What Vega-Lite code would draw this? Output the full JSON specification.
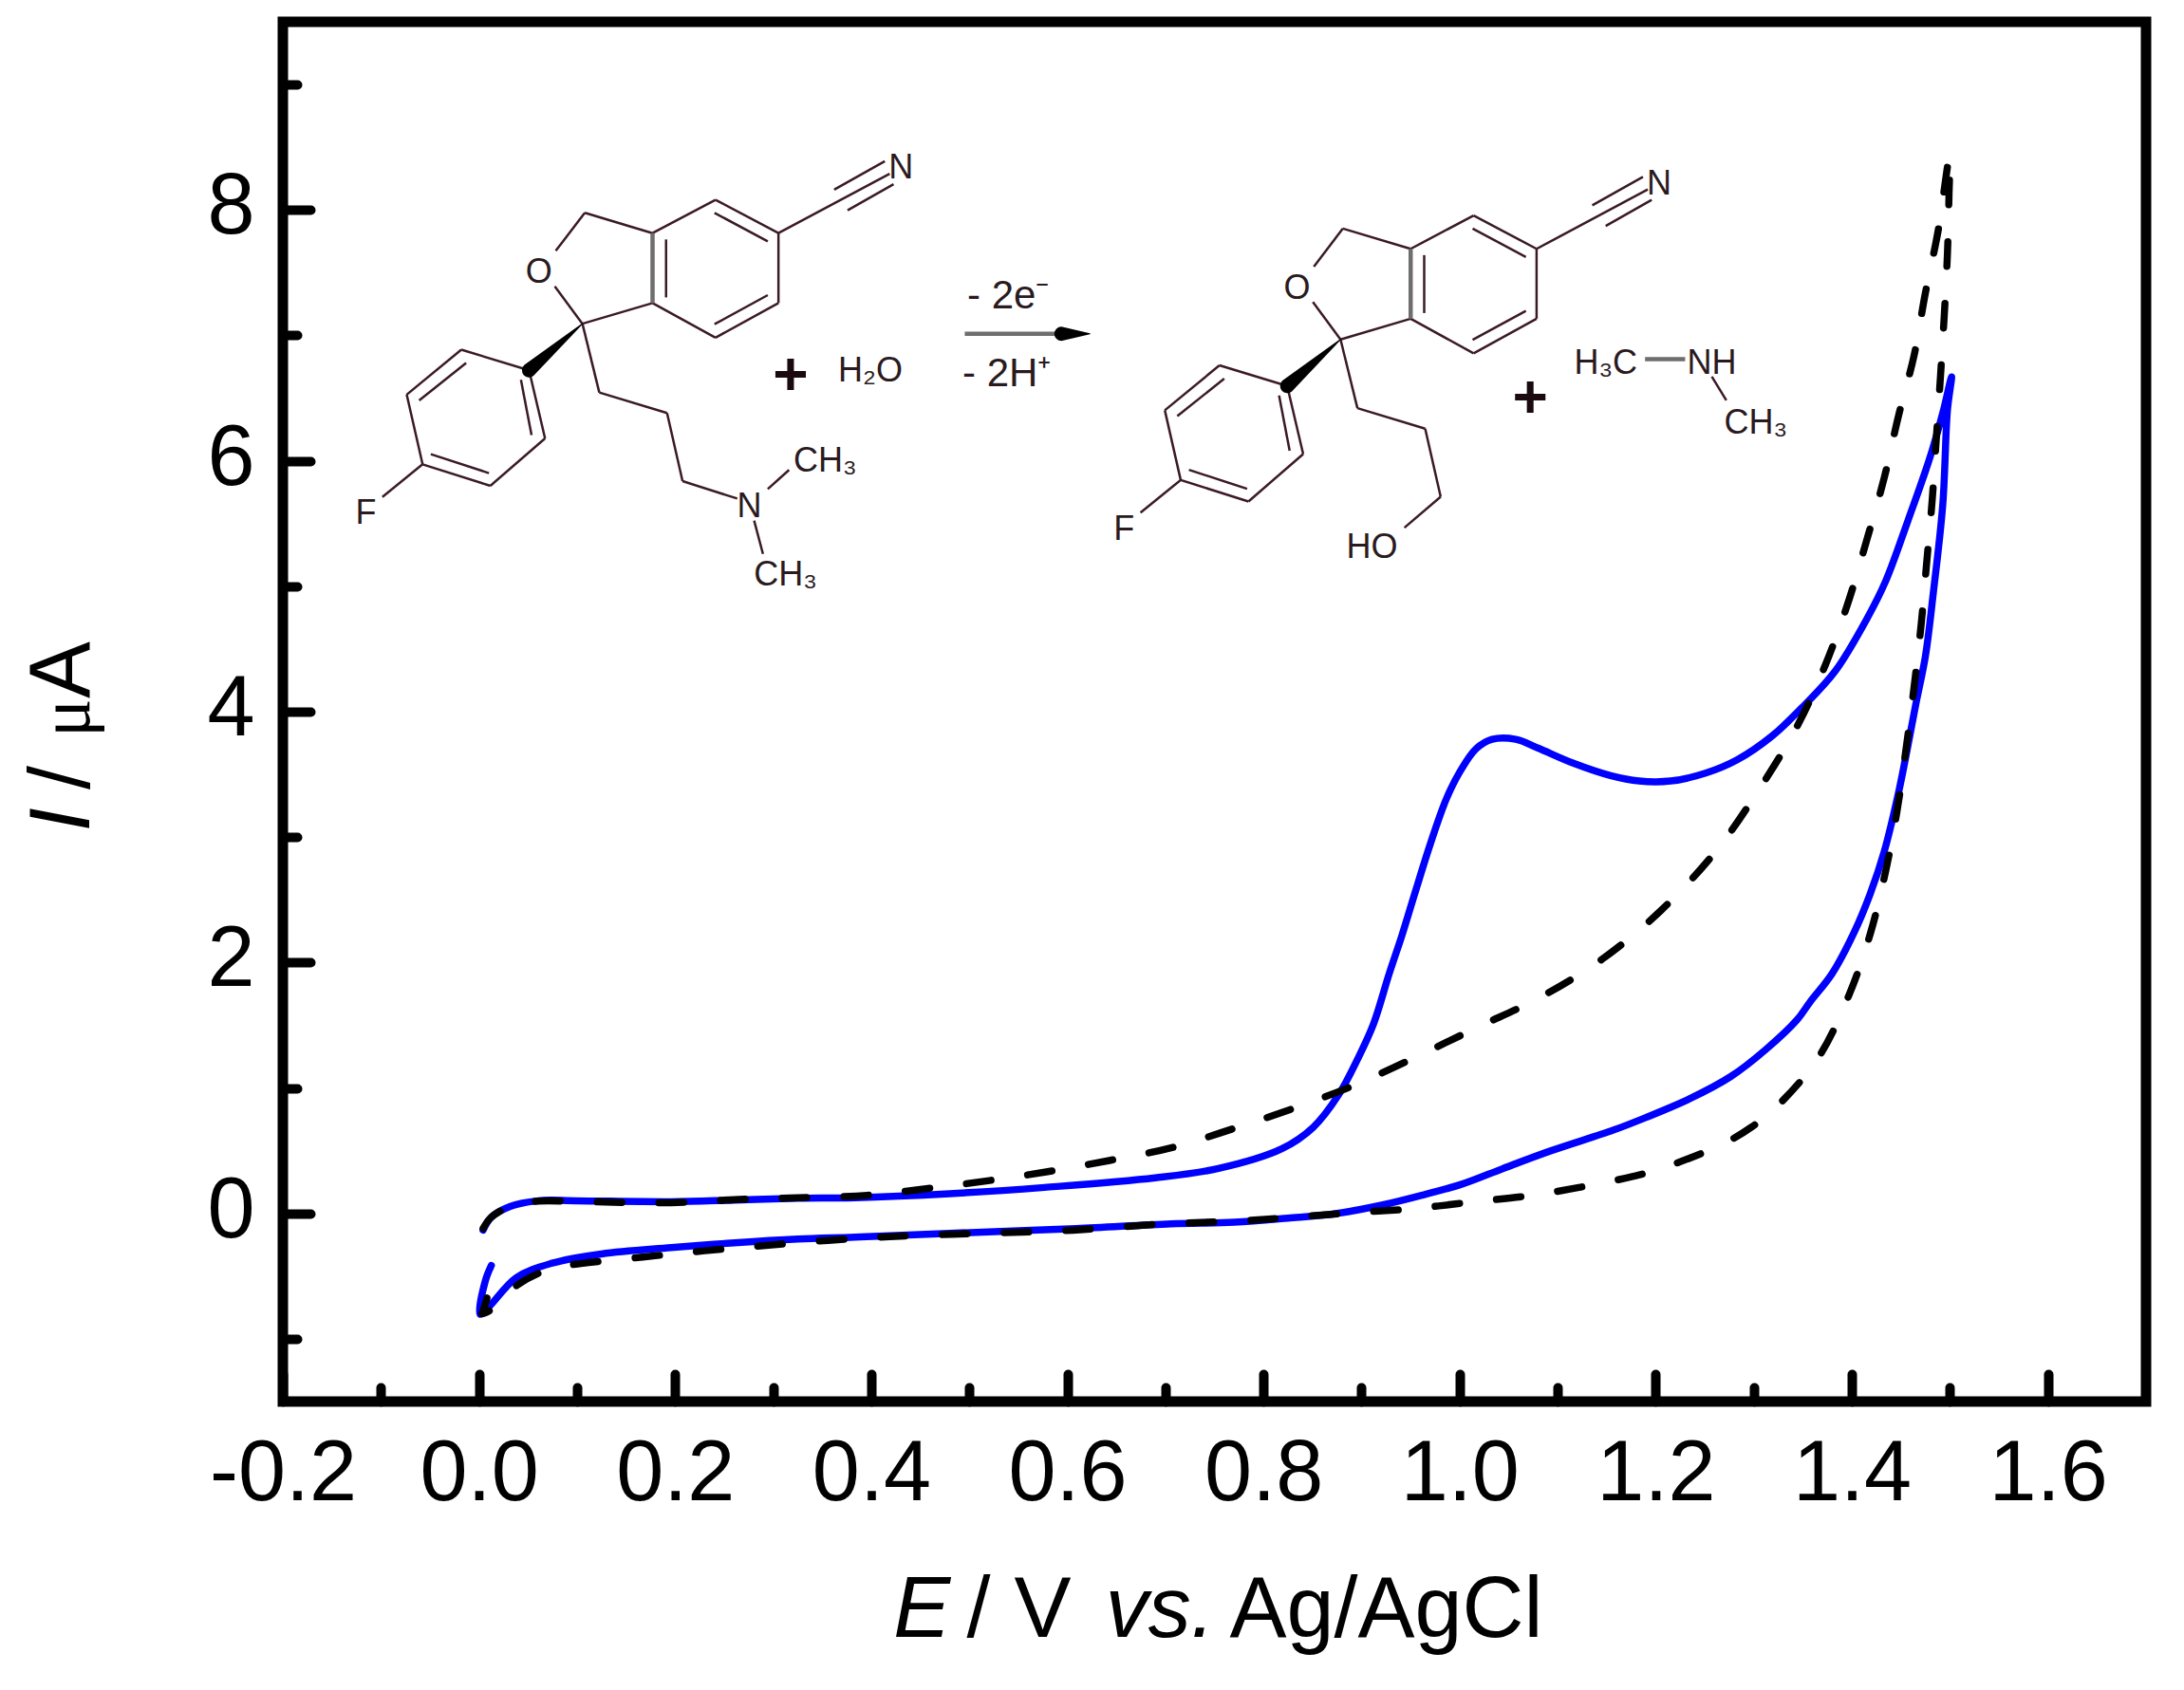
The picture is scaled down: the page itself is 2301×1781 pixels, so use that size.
{
  "$schema": "https://vega.github.io/schema/vega-lite/v6.json",
  "background": "white",
  "autosize": {"type": "none"},
  "padding": {"left": 298, "top": 23, "right": 40, "bottom": 304},
  "width": 1963,
  "height": 1454,
  "config": {
    "view": {"stroke": "black", "strokeWidth": 11},
    "axis": {"grid": false, "domain": false, "title": null, "tickColor": "black", "labelColor": "black", "labelFont": "Liberation Sans", "labelFontSize": 90, "tickCap": "round"}
  },
  "resolve": {"axis": {"x": "independent", "y": "independent"}},
  "datasets": {
    "blue": [
      {"i":0,"E":0.0042,"I":-0.134},{"i":1,"E":0.0123,"I":-0.033},{"i":2,"E":0.0316,"I":0.055},{"i":3,"E":0.0606,"I":0.101},{"i":4,"E":0.0993,"I":0.101},{"i":5,"E":0.1961,"I":0.093},{"i":6,"E":0.2605,"I":0.106},{"i":7,"E":0.325,"I":0.12},{"i":8,"E":0.3832,"I":0.125},{"i":9,"E":0.4799,"I":0.157},
      {"i":10,"E":0.5767,"I":0.207},{"i":11,"E":0.6896,"I":0.283},{"i":12,"E":0.7541,"I":0.358},{"i":13,"E":0.8186,"I":0.515},{"i":14,"E":0.8508,"I":0.687},{"i":15,"E":0.8766,"I":0.945},{"i":16,"E":0.896,"I":1.23},{"i":17,"E":0.9121,"I":1.508},{"i":18,"E":0.9282,"I":1.911},{"i":19,"E":0.9411,"I":2.214},
      {"i":20,"E":0.954,"I":2.543},{"i":21,"E":0.9702,"I":2.947},{"i":22,"E":0.9863,"I":3.301},{"i":23,"E":1.0008,"I":3.528},{"i":24,"E":1.0169,"I":3.705},{"i":25,"E":1.0331,"I":3.78},{"i":26,"E":1.0573,"I":3.78},{"i":27,"E":1.0798,"I":3.71},{"i":28,"E":1.1153,"I":3.591},{"i":29,"E":1.154,"I":3.49},
      {"i":30,"E":1.183,"I":3.447},{"i":31,"E":1.2153,"I":3.447},{"i":32,"E":1.2508,"I":3.51},{"i":33,"E":1.283,"I":3.616},{"i":34,"E":1.3185,"I":3.805},{"i":35,"E":1.3508,"I":4.045},{"i":36,"E":1.383,"I":4.323},{"i":37,"E":1.4153,"I":4.74},{"i":38,"E":1.4346,"I":5.043},{"i":39,"E":1.4572,"I":5.523},
      {"i":40,"E":1.4797,"I":6.028},{"i":41,"E":1.4927,"I":6.381},{"i":42,"E":1.5017,"I":6.669},{"i":43,"E":1.4975,"I":6.407},{"i":44,"E":1.4927,"I":5.649},{"i":45,"E":1.483,"I":4.942},{"i":46,"E":1.4749,"I":4.437},{"i":47,"E":1.4652,"I":4.059},{"i":48,"E":1.4572,"I":3.73},{"i":49,"E":1.4475,"I":3.351},
      {"i":50,"E":1.433,"I":2.884},{"i":51,"E":1.4185,"I":2.543},{"i":52,"E":1.4023,"I":2.24},{"i":53,"E":1.3798,"I":1.911},{"i":54,"E":1.3572,"I":1.684},{"i":55,"E":1.3443,"I":1.545},{"i":56,"E":1.312,"I":1.305},{"i":57,"E":1.2765,"I":1.091},{"i":58,"E":1.2346,"I":0.914},{"i":59,"E":1.1895,"I":0.763},
      {"i":60,"E":1.1572,"I":0.665},{"i":61,"E":1.0927,"I":0.498},{"i":62,"E":1.0443,"I":0.358},{"i":63,"E":1.0024,"I":0.233},{"i":64,"E":0.9637,"I":0.149},{"i":65,"E":0.9218,"I":0.068},{"i":66,"E":0.8734,"I":-0.002},{"i":67,"E":0.825,"I":-0.038},{"i":68,"E":0.7702,"I":-0.071},{"i":69,"E":0.7057,"I":-0.083},
      {"i":70,"E":0.6086,"I":-0.121},{"i":71,"E":0.4799,"I":-0.159},{"i":72,"E":0.3832,"I":-0.189},{"i":73,"E":0.325,"I":-0.205},{"i":74,"E":0.2605,"I":-0.235},{"i":75,"E":0.196,"I":-0.273},{"i":76,"E":0.125,"I":-0.323},{"i":77,"E":0.0735,"I":-0.399},{"i":78,"E":0.038,"I":-0.513},{"i":79,"E":0.0106,"I":-0.74},
      {"i":80,"E":0.001,"I":-0.803},{"i":81,"E":0.0065,"I":-0.538},{"i":82,"E":0.0126,"I":-0.416}
    ],
    "black": [
      {"i":0,"E":0.0042,"I":-0.12},{"i":1,"E":0.0123,"I":-0.033},{"i":2,"E":0.0316,"I":0.055},{"i":3,"E":0.0606,"I":0.098},{"i":4,"E":0.0993,"I":0.095},{"i":5,"E":0.1961,"I":0.085},{"i":6,"E":0.2605,"I":0.11},{"i":7,"E":0.325,"I":0.125},{"i":8,"E":0.396,"I":0.144},{"i":9,"E":0.454,"I":0.195},
      {"i":10,"E":0.517,"I":0.258},{"i":11,"E":0.58,"I":0.333},{"i":12,"E":0.6429,"I":0.422},{"i":13,"E":0.7058,"I":0.523},{"i":14,"E":0.7687,"I":0.674},{"i":15,"E":0.8316,"I":0.84},{"i":16,"E":0.8946,"I":1.028},{"i":17,"E":0.9574,"I":1.255},{"i":18,"E":1.0192,"I":1.487},{"i":19,"E":1.082,"I":1.722},
      {"i":20,"E":1.1451,"I":2.025},{"i":21,"E":1.2056,"I":2.417},{"i":22,"E":1.2622,"I":2.896},{"i":23,"E":1.3072,"I":3.402},{"i":24,"E":1.344,"I":3.881},{"i":25,"E":1.373,"I":4.373},{"i":26,"E":1.396,"I":4.866},{"i":27,"E":1.4153,"I":5.371},{"i":28,"E":1.433,"I":5.864},{"i":29,"E":1.4475,"I":6.356},
      {"i":30,"E":1.4636,"I":6.845},{"i":31,"E":1.4749,"I":7.335},{"i":32,"E":1.4878,"I":7.826},{"i":33,"E":1.4998,"I":8.434},{"i":34,"E":1.4991,"I":8.13},{"i":35,"E":1.4975,"I":7.656},{"i":36,"E":1.4943,"I":7.167},{"i":37,"E":1.4904,"I":6.675},{"i":38,"E":1.4862,"I":6.185},{"i":39,"E":1.482,"I":5.695},
      {"i":40,"E":1.4765,"I":5.205},{"i":41,"E":1.4707,"I":4.697},{"i":42,"E":1.4636,"I":4.206},{"i":43,"E":1.4555,"I":3.716},{"i":44,"E":1.4459,"I":3.199},{"i":45,"E":1.4346,"I":2.733},{"i":46,"E":1.4192,"I":2.24},{"i":47,"E":1.3975,"I":1.748},{"i":48,"E":1.3669,"I":1.255},{"i":49,"E":1.3282,"I":0.889},
      {"i":50,"E":1.2975,"I":0.687},{"i":51,"E":1.2669,"I":0.548},{"i":52,"E":1.2056,"I":0.358},{"i":53,"E":1.1701,"I":0.283},{"i":54,"E":1.0783,"I":0.149},{"i":55,"E":1.015,"I":0.093},{"i":56,"E":0.9526,"I":0.038},{"i":57,"E":0.8895,"I":0.005},{"i":58,"E":0.8267,"I":-0.033},{"i":59,"E":0.7702,"I":-0.062},
      {"i":60,"E":0.7005,"I":-0.083},{"i":61,"E":0.6057,"I":-0.134},{"i":62,"E":0.5106,"I":-0.159},{"i":63,"E":0.4186,"I":-0.185},{"i":64,"E":0.3557,"I":-0.215},{"i":65,"E":0.2925,"I":-0.255},{"i":66,"E":0.23,"I":-0.298},{"i":67,"E":0.167,"I":-0.348},{"i":68,"E":0.104,"I":-0.4},{"i":69,"E":0.0735,"I":-0.44},
      {"i":70,"E":0.0406,"I":-0.563},{"i":71,"E":0.0129,"I":-0.765},{"i":72,"E":0.003,"I":-0.8},{"i":73,"E":0.0042,"I":-0.778},{"i":74,"E":0.0129,"I":-0.543}
    ],
    "bonds": [
      {"E":0.177,"I":7.815,"E2":0.2412,"I2":8.081},{"E":0.2412,"I":8.081,"E2":0.3054,"I2":7.815},{"E":0.3054,"I":7.815,"E2":0.3054,"I2":7.258},{"E":0.3054,"I":7.258,"E2":0.2412,"I2":6.982},{"E":0.2412,"I":6.982,"E2":0.177,"I2":7.258},
      {"E":0.2402,"I":7.977,"E2":0.2945,"I2":7.75},{"E":0.1908,"I":7.765,"E2":0.1908,"I2":7.303},{"E":0.2945,"I":7.321,"E2":0.2402,"I2":7.089},
      {"E":0.3054,"I":7.815,"E2":0.4188,"I2":8.288},{"E":0.3622,"I":8.162,"E2":0.4139,"I2":8.389},{"E":0.3759,"I":7.998,"E2":0.4228,"I2":8.205},
      {"E":0.177,"I":7.815,"E2":0.1079,"I2":7.977},{"E":0.1079,"I":7.977,"E2":0.0783,"I2":7.674},{"E":0.0773,"I":7.391,"E2":0.1055,"I2":7.093},{"E":0.1055,"I":7.093,"E2":0.177,"I2":7.258},
      {"E":0.0511,"I":6.722,"E2":-0.018,"I2":6.886},{"E":-0.018,"I":6.886,"E2":-0.0737,"I2":6.528},{"E":-0.0737,"I":6.528,"E2":-0.0575,"I2":5.972},{"E":-0.0575,"I":5.972,"E2":0.0116,"I2":5.801},{"E":0.0116,"I":5.801,"E2":0.0674,"I2":6.179},{"E":0.0674,"I":6.179,"E2":0.0511,"I2":6.722},
      {"E":-0.0131,"I":6.78,"E2":-0.061,"I2":6.482},{"E":-0.0491,"I":6.053,"E2":0.0102,"I2":5.902},{"E":0.0536,"I":6.205,"E2":0.0428,"I2":6.646},{"E":-0.0575,"I":5.972,"E2":-0.0985,"I2":5.712},
      {"E":0.1055,"I":7.093,"E2":0.1227,"I2":6.545},{"E":0.1227,"I":6.545,"E2":0.1918,"I2":6.381},{"E":0.1918,"I":6.381,"E2":0.2076,"I2":5.838},{"E":0.2076,"I":5.838,"E2":0.2634,"I2":5.699},{"E":0.2945,"I":5.775,"E2":0.3162,"I2":5.927},{"E":0.2806,"I":5.523,"E2":0.2896,"I2":5.258},
      {"E":0.9501,"I":7.69,"E2":1.0143,"I2":7.956},{"E":1.0143,"I":7.956,"E2":1.0785,"I2":7.69},{"E":1.0785,"I":7.69,"E2":1.0785,"I2":7.133},{"E":1.0785,"I":7.133,"E2":1.0143,"I2":6.857},{"E":1.0143,"I":6.857,"E2":0.9501,"I2":7.133},
      {"E":1.0133,"I":7.852,"E2":1.0676,"I2":7.625},{"E":0.9639,"I":7.64,"E2":0.9639,"I2":7.178},{"E":1.0676,"I":7.196,"E2":1.0133,"I2":6.964},
      {"E":1.0785,"I":7.69,"E2":1.1919,"I2":8.163},{"E":1.1353,"I":8.037,"E2":1.187,"I2":8.264},{"E":1.149,"I":7.873,"E2":1.1959,"I2":8.08},
      {"E":0.9501,"I":7.69,"E2":0.881,"I2":7.852},{"E":0.881,"I":7.852,"E2":0.8514,"I2":7.549},{"E":0.8504,"I":7.266,"E2":0.8786,"I2":6.968},{"E":0.8786,"I":6.968,"E2":0.9501,"I2":7.133},
      {"E":0.8242,"I":6.597,"E2":0.7551,"I2":6.761},{"E":0.7551,"I":6.761,"E2":0.6994,"I2":6.403},{"E":0.6994,"I":6.403,"E2":0.7156,"I2":5.847},{"E":0.7156,"I":5.847,"E2":0.7847,"I2":5.676},{"E":0.7847,"I":5.676,"E2":0.8405,"I2":6.054},{"E":0.8405,"I":6.054,"E2":0.8242,"I2":6.597},
      {"E":0.76,"I":6.655,"E2":0.7121,"I2":6.357},{"E":0.724,"I":5.928,"E2":0.7833,"I2":5.777},{"E":0.8267,"I":6.08,"E2":0.8159,"I2":6.521},{"E":0.7156,"I":5.847,"E2":0.6746,"I2":5.587},
      {"E":0.8786,"I":6.968,"E2":0.8958,"I2":6.42},{"E":0.8958,"I":6.42,"E2":0.9649,"I2":6.256},{"E":0.9649,"I":6.256,"E2":0.9807,"I2":5.713},{"E":0.9807,"I":5.713,"E2":0.9437,"I2":5.467},{"E":1.2572,"I":6.672,"E2":1.272,"I2":6.482}
    ],
    "thickBonds": [
      {"E":0.177,"I":7.258,"E2":0.177,"I2":7.815},{"E":0.9501,"I":7.133,"E2":0.9501,"I2":7.69},{"E":1.1891,"I":6.811,"E2":1.23,"I2":6.811},{"E":0.4954,"I":7.013,"E2":0.5966,"I2":7.013}
    ],
    "wedges": [
      {"id":"wedge1","p":0,"E":0.1055,"I":7.093,"t":0},{"id":"wedge1","p":1,"E":0.0511,"I":6.722,"t":1},
      {"id":"wedge2","p":0,"E":0.8786,"I":6.968,"t":0},{"id":"wedge2","p":1,"E":0.8242,"I":6.597,"t":1},
      {"id":"arrowhead","p":0,"E":0.594,"I":7.013,"t":1},{"id":"arrowhead","p":1,"E":0.623,"I":7.013,"t":0}
    ],
    "atoms": [
      {"E":0.4303,"I":8.364,"label":"N"},{"E":0.061,"I":7.53,"label":"O"},{"E":-0.1152,"I":5.611,"label":"F"},{"E":0.2758,"I":5.661,"label":"N"},{"E":0.3531,"I":6.028,"label":"CH₃"},{"E":0.3127,"I":5.119,"label":"CH₃"},{"E":0.3991,"I":6.75,"label":"H₂O"},
      {"E":1.2034,"I":8.239,"label":"N"},{"E":0.8341,"I":7.405,"label":"O"},{"E":0.6579,"I":5.486,"label":"F"},{"E":0.9106,"I":5.341,"label":"HO"},{"E":1.149,"I":6.805,"label":"H₃C"},{"E":1.2572,"I":6.805,"label":"NH"},{"E":1.3021,"I":6.331,"label":"CH₃"}
    ],
    "plus": [{"E":0.3177,"I":6.697,"label":"+"},{"E":1.072,"I":6.512,"label":"+"}],
    "reaction": [{"E":0.4979,"I":7.341,"label":"- 2e⁻"},{"E":0.493,"I":6.722,"label":"- 2H⁺"}],
    "xTitleItalic": [{"E":0.4227,"I":-3.379,"label":"E"},{"E":0.639,"I":-3.379,"label":"vs."}],
    "xTitlePlain": [{"E":0.4973,"I":-3.379,"label":"/ V"},{"E":0.7654,"I":-3.379,"label":"Ag/AgCl"}],
    "yTitleItalic": [{"E":-0.3977,"I":3.045,"label":"I"}],
    "yTitlePlain": [{"E":-0.3977,"I":3.379,"label":"/"},{"E":-0.3977,"I":4.106,"label":"A"}],
    "yTitleMu": [{"E":-0.3977,"I":3.795,"label":"μ"}]
  },
  "layer": [
    {
      "data": {"name": "blue"},
      "mark": {"type": "line", "color": "#0000ff", "strokeWidth": 7.5, "strokeCap": "round", "strokeJoin": "round", "interpolate": "catmull-rom"},
      "encoding": {
        "x": {"field": "E", "type": "quantitative", "scale": {"domain": [-0.2, 1.7], "nice": false, "zero": false},
          "axis": {"orient": "bottom", "values": [-0.2, 0, 0.2, 0.4, 0.6, 0.8, 1, 1.2, 1.4, 1.6], "tickSize": -29, "tickWidth": 10, "labelPadding": 61, "labelExpr": "datum.value < 0 ? '-0.2' : format(datum.value, '.1f')", "labelOverlap": false, "labelFlush": false}},
        "y": {"field": "I", "type": "quantitative", "scale": {"domain": [-1.5, 9.5], "nice": false, "zero": false},
          "axis": {"orient": "left", "values": [0, 2, 4, 6, 8], "tickSize": -29, "tickWidth": 10, "labelPadding": 59, "labelOffset": -2.5, "format": "d", "labelOverlap": false, "labelFlush": false}},
        "order": {"field": "i", "type": "quantitative"}
      }
    },
    {
      "data": {"name": "black"},
      "mark": {"type": "line", "color": "black", "strokeWidth": 7.5, "strokeCap": "round", "strokeJoin": "round", "strokeDash": [26, 39], "interpolate": "catmull-rom"},
      "encoding": {
        "x": {"field": "E", "type": "quantitative", "scale": {"domain": [-0.2, 1.7], "nice": false, "zero": false},
          "axis": {"orient": "bottom", "values": [-0.1, 0.1, 0.3, 0.5, 0.7, 0.9, 1.1, 1.3, 1.5], "tickSize": -15, "tickWidth": 10, "labels": false}},
        "y": {"field": "I", "type": "quantitative", "scale": {"domain": [-1.5, 9.5], "nice": false, "zero": false},
          "axis": {"orient": "left", "values": [-1, 1, 3, 5, 7, 9], "tickSize": -15, "tickWidth": 10, "labels": false}},
        "order": {"field": "i", "type": "quantitative"}
      }
    },
    {
      "data": {"name": "bonds"},
      "mark": {"type": "rule", "color": "#3b1a28", "strokeWidth": 2.5},
      "encoding": {
        "x": {"field": "E", "type": "quantitative", "scale": {"domain": [-0.2, 1.7], "nice": false, "zero": false}, "axis": null},
        "y": {"field": "I", "type": "quantitative", "scale": {"domain": [-1.5, 9.5], "nice": false, "zero": false}, "axis": null},
        "x2": {"field": "E2"},
        "y2": {"field": "I2"}
      }
    },
    {
      "data": {"name": "thickBonds"},
      "mark": {"type": "rule", "color": "#6e6e6e", "strokeWidth": 4.5},
      "encoding": {
        "x": {"field": "E", "type": "quantitative", "scale": {"domain": [-0.2, 1.7], "nice": false, "zero": false}, "axis": null},
        "y": {"field": "I", "type": "quantitative", "scale": {"domain": [-1.5, 9.5], "nice": false, "zero": false}, "axis": null},
        "x2": {"field": "E2"},
        "y2": {"field": "I2"}
      }
    },
    {
      "data": {"name": "wedges"},
      "mark": {"type": "trail", "color": "black"},
      "encoding": {
        "x": {"field": "E", "type": "quantitative", "scale": {"domain": [-0.2, 1.7], "nice": false, "zero": false}, "axis": null},
        "y": {"field": "I", "type": "quantitative", "scale": {"domain": [-1.5, 9.5], "nice": false, "zero": false}, "axis": null},
        "detail": {"field": "id"},
        "order": {"field": "p", "type": "quantitative"},
        "size": {"field": "t", "type": "quantitative", "scale": {"domain": [0, 1], "range": [1, 15]}, "legend": null}
      }
    },
    {
      "data": {"name": "atoms"},
      "mark": {"type": "text", "font": "Liberation Sans", "fontSize": 36, "color": "#2a1a20", "align": "center", "baseline": "middle", "dy": 4},
      "encoding": {
        "x": {"field": "E", "type": "quantitative", "scale": {"domain": [-0.2, 1.7], "nice": false, "zero": false}, "axis": null},
        "y": {"field": "I", "type": "quantitative", "scale": {"domain": [-1.5, 9.5], "nice": false, "zero": false}, "axis": null},
        "text": {"field": "label"}
      }
    },
    {
      "data": {"name": "plus"},
      "mark": {"type": "text", "font": "Liberation Sans", "fontSize": 64, "fontWeight": "bold", "color": "#1a0a10", "align": "center", "baseline": "middle", "dy": 3},
      "encoding": {
        "x": {"field": "E", "type": "quantitative", "scale": {"domain": [-0.2, 1.7], "nice": false, "zero": false}, "axis": null},
        "y": {"field": "I", "type": "quantitative", "scale": {"domain": [-1.5, 9.5], "nice": false, "zero": false}, "axis": null},
        "text": {"field": "label"}
      }
    },
    {
      "data": {"name": "reaction"},
      "mark": {"type": "text", "font": "Liberation Sans", "fontSize": 42, "color": "#2a1a20", "align": "left", "baseline": "middle", "dy": 4},
      "encoding": {
        "x": {"field": "E", "type": "quantitative", "scale": {"domain": [-0.2, 1.7], "nice": false, "zero": false}, "axis": null},
        "y": {"field": "I", "type": "quantitative", "scale": {"domain": [-1.5, 9.5], "nice": false, "zero": false}, "axis": null},
        "text": {"field": "label"}
      }
    },
    {
      "data": {"name": "xTitleItalic"},
      "mark": {"type": "text", "font": "Liberation Sans", "fontSize": 90, "fontStyle": "italic", "color": "black", "align": "left", "baseline": "alphabetic"},
      "encoding": {
        "x": {"field": "E", "type": "quantitative", "scale": {"domain": [-0.2, 1.7], "nice": false, "zero": false}, "axis": null},
        "y": {"field": "I", "type": "quantitative", "scale": {"domain": [-1.5, 9.5], "nice": false, "zero": false}, "axis": null},
        "text": {"field": "label"}
      }
    },
    {
      "data": {"name": "xTitlePlain"},
      "mark": {"type": "text", "font": "Liberation Sans", "fontSize": 90, "color": "black", "align": "left", "baseline": "alphabetic"},
      "encoding": {
        "x": {"field": "E", "type": "quantitative", "scale": {"domain": [-0.2, 1.7], "nice": false, "zero": false}, "axis": null},
        "y": {"field": "I", "type": "quantitative", "scale": {"domain": [-1.5, 9.5], "nice": false, "zero": false}, "axis": null},
        "text": {"field": "label"}
      }
    },
    {
      "data": {"name": "yTitleItalic"},
      "mark": {"type": "text", "font": "Liberation Sans", "fontSize": 90, "fontStyle": "italic", "color": "black", "align": "left", "baseline": "alphabetic", "angle": 270},
      "encoding": {
        "x": {"field": "E", "type": "quantitative", "scale": {"domain": [-0.2, 1.7], "nice": false, "zero": false}, "axis": null},
        "y": {"field": "I", "type": "quantitative", "scale": {"domain": [-1.5, 9.5], "nice": false, "zero": false}, "axis": null},
        "text": {"field": "label"}
      }
    },
    {
      "data": {"name": "yTitlePlain"},
      "mark": {"type": "text", "font": "Liberation Sans", "fontSize": 90, "color": "black", "align": "left", "baseline": "alphabetic", "angle": 270},
      "encoding": {
        "x": {"field": "E", "type": "quantitative", "scale": {"domain": [-0.2, 1.7], "nice": false, "zero": false}, "axis": null},
        "y": {"field": "I", "type": "quantitative", "scale": {"domain": [-1.5, 9.5], "nice": false, "zero": false}, "axis": null},
        "text": {"field": "label"}
      }
    },
    {
      "data": {"name": "yTitleMu"},
      "mark": {"type": "text", "font": "Liberation Serif", "fontSize": 76, "color": "black", "align": "left", "baseline": "alphabetic", "angle": 270},
      "encoding": {
        "x": {"field": "E", "type": "quantitative", "scale": {"domain": [-0.2, 1.7], "nice": false, "zero": false}, "axis": null},
        "y": {"field": "I", "type": "quantitative", "scale": {"domain": [-1.5, 9.5], "nice": false, "zero": false}, "axis": null},
        "text": {"field": "label"}
      }
    }
  ]
}
